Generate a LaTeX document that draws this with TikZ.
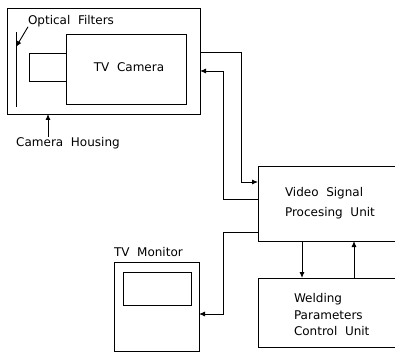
\documentclass[tikz,border=0pt]{standalone}
\usepackage{fontspec}
\setmainfont{DejaVu Sans}
\usetikzlibrary{arrows.meta}
\tikzset{
  box/.style={draw, outer sep=0, inner sep=0, anchor=north west, line width=0.9pt},
  txt/.style={outer sep=0, inner sep=0, font=\fontsize{12}{15}\selectfont},
  arr/.style={line width=0.9pt, -{Latex[length=6pt, width=5pt]}},
}
\begin{document}
\begin{tikzpicture}[x=1pt, y=-1pt]
  \clip (0,0) rectangle (395,352);
  \fill[white] (0,0) rectangle (395,352);

  % camera housing
  \node [box, minimum width=193, minimum height=106] (housing) at (7,8) {};
  \node [box, minimum width=120, minimum height=70] (camera) at (66,34) {};
  \node [txt] (camera-t) at (129,67) {TV\ \ Camera};
  \node [box, minimum width=37, minimum height=28, anchor=north east] (lens) at (camera.west |- 0,53) {};
  \draw [line width=0.9pt] (16,32) coordinate (filter-t) -- (16,107) coordinate (filter-b);
  \coordinate (filter-p) at (16,47);

  \node [txt, anchor=west] (filters) at (28,21) {Optical\ \ Filters};
  \draw [arr] (filters.south west) -- (filter-p);

  \node [txt] (housing-t) at (68,143) {Camera\ \ Housing};
  \draw [arr] (housing-t.north -| 48,0) -- (housing.south -| 48,0);

  % processing
  \node [box, minimum width=145, minimum height=75] (vspu) at (258,166) {};
  \node [txt, anchor=west] (vspu-a) at (285,193) {Video\ \ Signal};
  \node [txt, anchor=west] (vspu-b) at (285,213) {Procesing\ \ Unit};

  \node [box, minimum width=145, minimum height=69] (wpcu) at (258,278) {};
  \node [txt, anchor=west] (wpcu-a) at (294,299) {Welding};
  \node [txt, anchor=west] (wpcu-b) at (294,315) {Parameters};
  \node [txt, anchor=west] (wpcu-c) at (294,331) {Control\ \ Unit};

  % monitor
  \node [box, minimum width=85, minimum height=89] (monitor) at (114,262) {};
  \node [box, minimum width=68, minimum height=33] (screen) at (123,272) {};
  \node [txt, anchor=south west] (monitor-t) at ([yshift=5pt]monitor.north west) {TV\ \ Monitor};

  % connections
  \draw [arr] (housing.east |- 0,52) -- (241,52) |- (vspu.west |- 0,182);
  \draw [arr] (vspu.west |- 0,199) -| (223,71) -- (housing.east |- 0,71);
  \draw [arr] (vspu.west |- 0,232) -| (223,314) -- (monitor.east |- 0,314);
  \draw [arr] (vspu.south -| 302,0) -- (wpcu.north -| 302,0);
  \draw [arr] (wpcu.north -| 354,0) -- (vspu.south -| 354,0);
\end{tikzpicture}
\end{document}
